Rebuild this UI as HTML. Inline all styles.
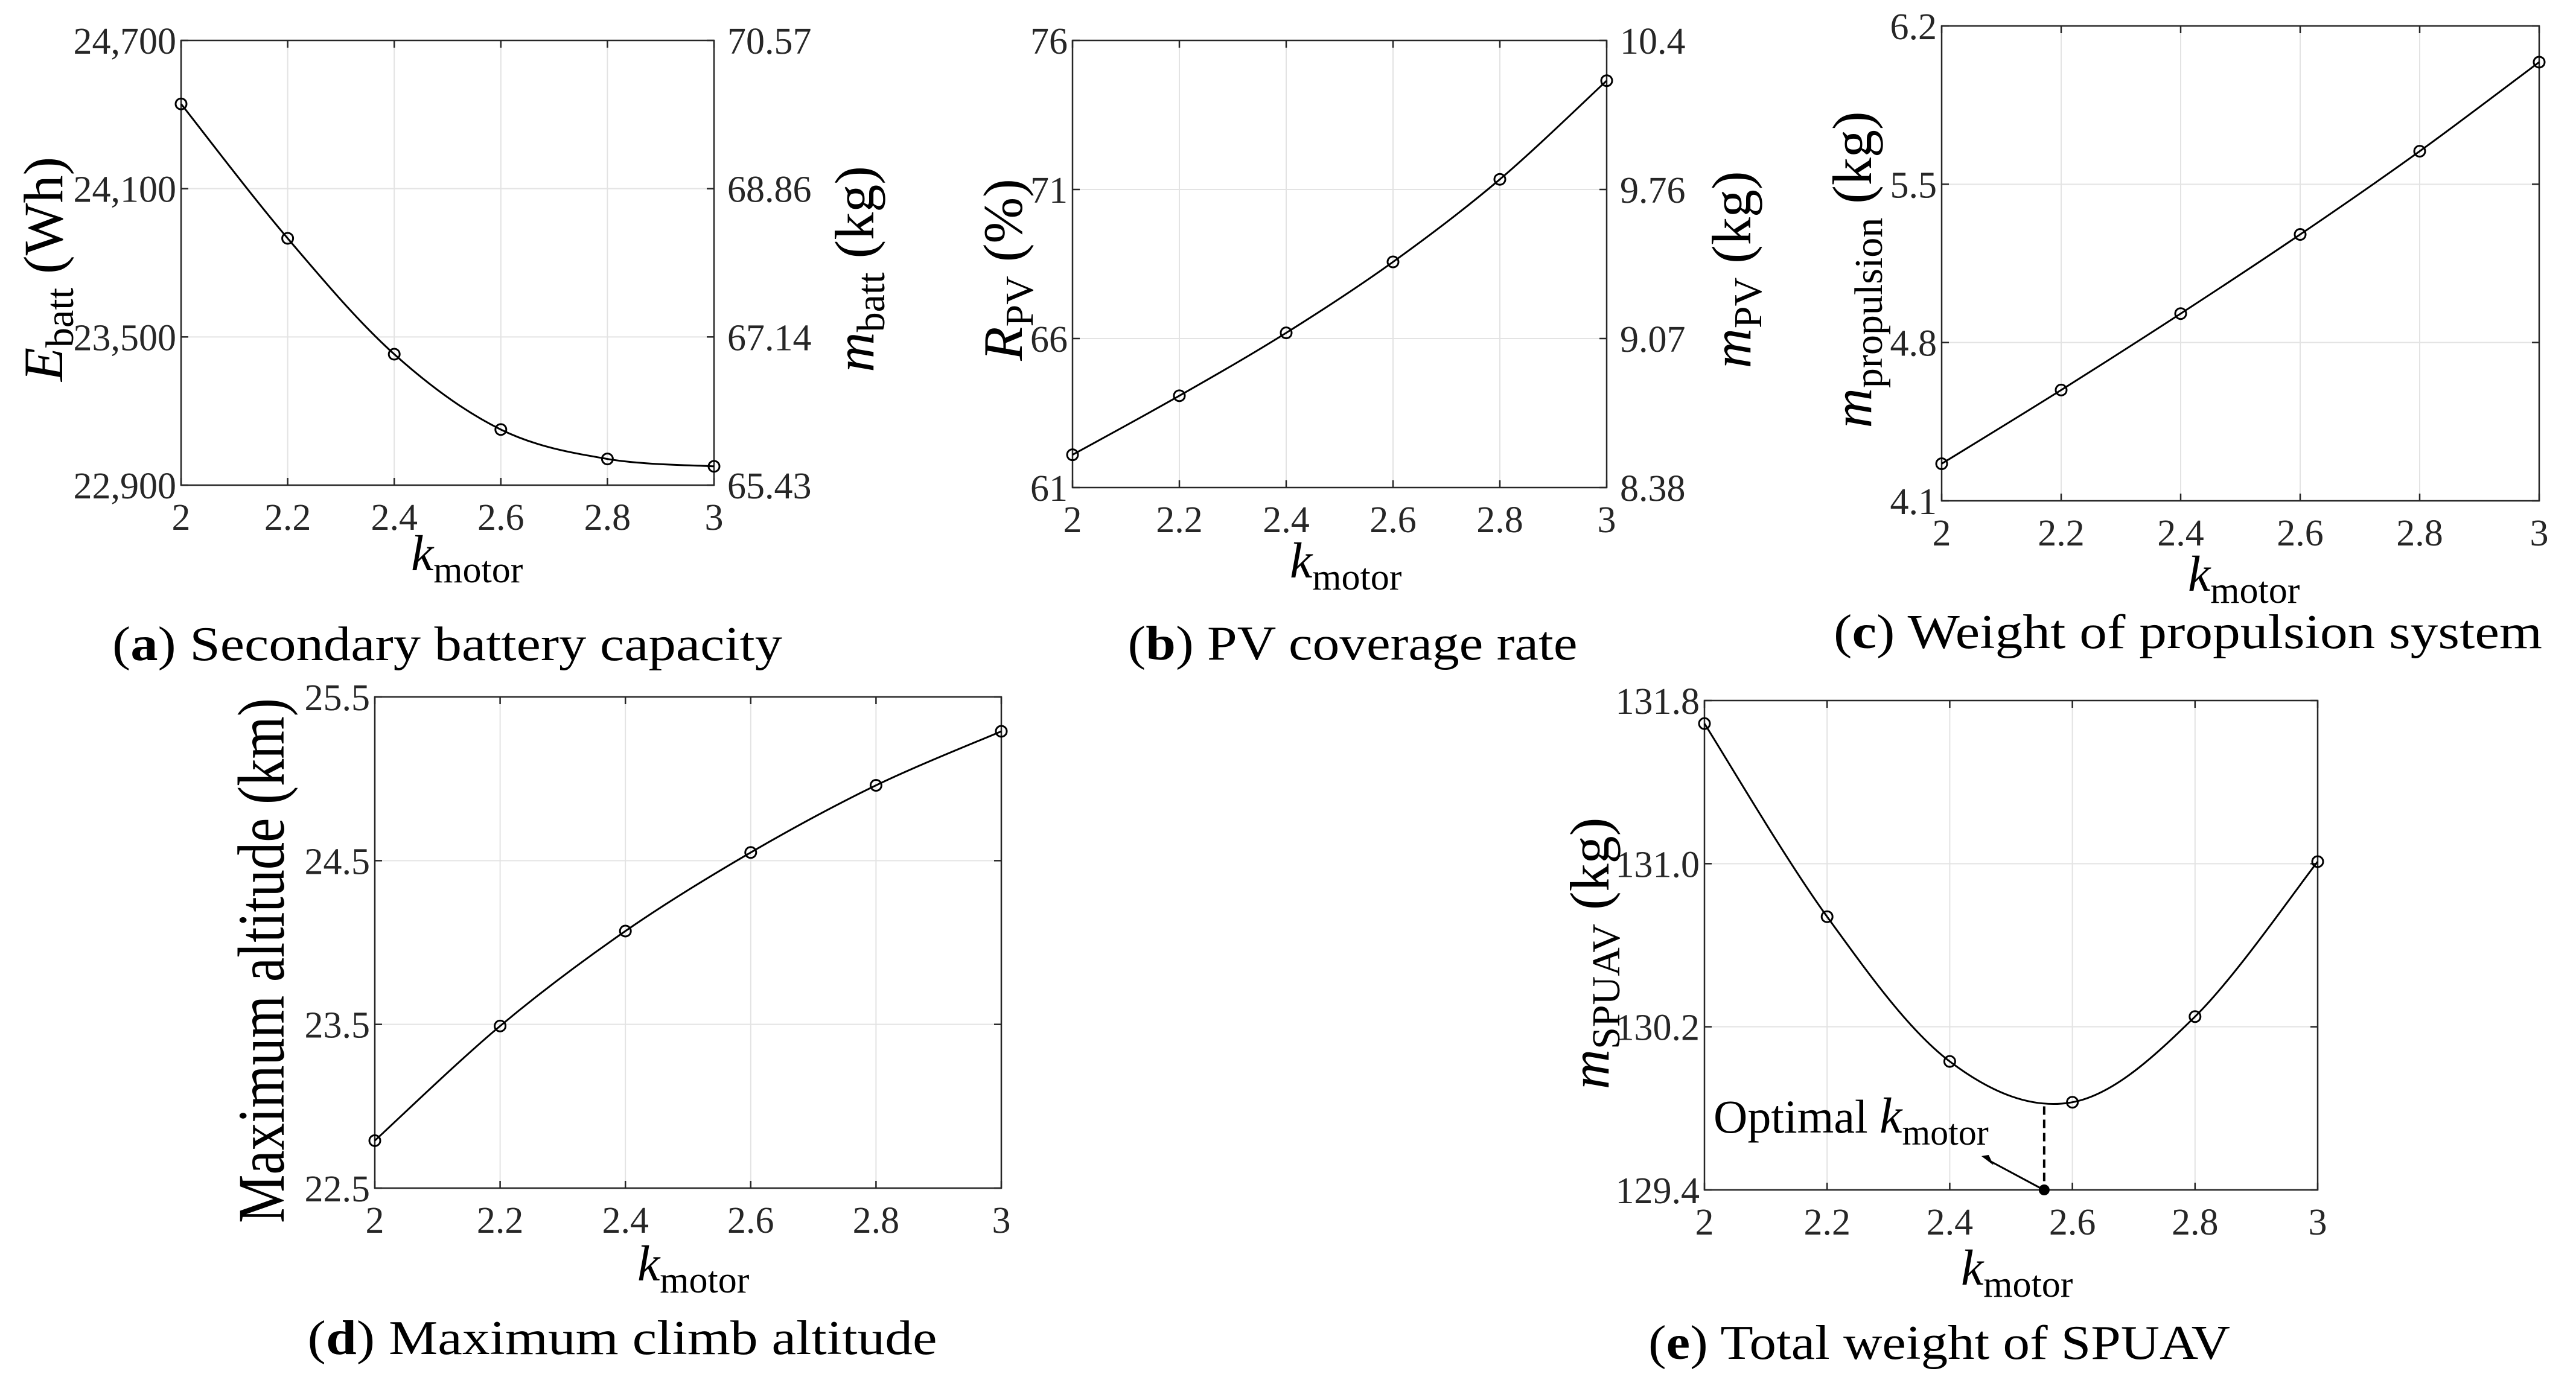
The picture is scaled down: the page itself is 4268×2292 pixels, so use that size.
<!DOCTYPE html>
<html><head><meta charset="utf-8"><style>
html,body{margin:0;padding:0;background:#fff;}
svg{display:block;}
text,tspan{font-family:"Liberation Serif","Times New Roman",serif;}
</style></head><body>
<svg id="fig" width="4268" height="2292" viewBox="0 0 4268 2292" xmlns="http://www.w3.org/2000/svg" font-family="Liberation Serif, serif"></svg>
<script>
// ---- data ----
const kMotor = [2, 2.2, 2.4, 2.6, 2.8, 3.0];
const xTicks = [2, 2.2, 2.4, 2.6, 2.8, 3];
const xTickLabels = ["2", "2.2", "2.4", "2.6", "2.8", "3"];
const battEnergy = [24443, 23899, 23430, 23125, 23006, 22976];
const battTicks = [22900, 23500, 24100, 24700];
const battTickLabels = ["22,900", "23,500", "24,100", "24,700"];
const battMassLabels = ["65.43", "67.14", "68.86", "70.57"];
const pvRate = [62.10, 64.08, 66.19, 68.57, 71.34, 74.65];
const pvTicks = [61, 66, 71, 76];
const pvTickLabels = ["61", "66", "71", "76"];
const pvMassLabels = ["8.38", "9.07", "9.76", "10.4"];
const propMass = [4.264, 4.59, 4.928, 5.278, 5.646, 6.04];
const propTicks = [4.1, 4.8, 5.5, 6.2];
const propTickLabels = ["4.1", "4.8", "5.5", "6.2"];
const altitude = [22.79, 23.49, 24.07, 24.55, 24.96, 25.29];
const altTicks = [22.5, 23.5, 24.5, 25.5];
const altTickLabels = ["22.5", "23.5", "24.5", "25.5"];
const totalMass = [131.687, 130.74, 130.03, 129.83, 130.25, 131.01];
const totalTicks = [129.4, 130.2, 131.0, 131.8];
const totalTickLabels = ["129.4", "130.2", "131.0", "131.8"];
const optimalK = [2.554];
const optimalMass = [129.81];

const NS = "http://www.w3.org/2000/svg";
const svg = document.getElementById("fig");
const FONT = "'Liberation Serif', 'Times New Roman', serif";
function mk(tag, attrs, parent) {
  const e = document.createElementNS(NS, tag);
  for (const k in attrs) e.setAttribute(k, attrs[k]);
  (parent || svg).appendChild(e);
  return e;
}
function addText(parent, x, y, parts, anchor, rot) {
  const t = mk("text", {x: 0, y: 0, "text-anchor": anchor || "start", fill: "#000"}, parent);
  t.setAttribute("style", "font-family:" + FONT);
  t.setAttribute("transform", "translate(" + x + "," + y + ")" + (rot ? " rotate(" + rot + ")" : ""));
  parts.forEach(p => {
    const s = mk("tspan", {"font-size": p.fs}, t);
    s.setAttribute("style", "font-family:" + FONT);
    if (p.it) s.setAttribute("font-style", "italic");
    if (p.b) s.setAttribute("font-weight", "bold");
    if (p.dy) s.setAttribute("dy", p.dy);
    s.textContent = p.t;
  });
  return t;
}
function smoothPath(pts) {
  let d = "M" + pts[0][0] + "," + pts[0][1];
  for (let i = 0; i < pts.length - 1; i++) {
    const p0 = pts[Math.max(0, i - 1)], p1 = pts[i], p2 = pts[i + 1], p3 = pts[Math.min(pts.length - 1, i + 2)];
    const c1 = [p1[0] + (p2[0] - p0[0]) / 6, p1[1] + (p2[1] - p0[1]) / 6];
    const c2 = [p2[0] - (p3[0] - p1[0]) / 6, p2[1] - (p3[1] - p1[1]) / 6];
    d += " C" + c1 + " " + c2 + " " + p2;
  }
  return d;
}

function panel(cfg) {
  const g = mk("g", {});
  
  
  const {L, R, T, B} = cfg;
  const xs = v => L + (v - 2) / (3 - 2) * (R - L);
  const ys = v => B - (v - cfg.ymin) / (cfg.ymax - cfg.ymin) * (B - T);
  xTicks.forEach(v => {
    const l = mk("line", {x1: xs(v), x2: xs(v), y1: T, y2: B, stroke: "#e3e3e3", "stroke-width": 2}, g);
    
    
  });
  cfg.ticks.forEach(v => {
    const l = mk("line", {x1: L, x2: R, y1: ys(v), y2: ys(v), stroke: "#e3e3e3", "stroke-width": 2}, g);
    
    
  });
  const box = mk("rect", {x: L, y: T, width: R - L, height: B - T, fill: "none", stroke: "#262626", "stroke-width": 2.5}, g);
  
  
  xTicks.forEach((v, i) => {
    mk("line", {x1: xs(v), x2: xs(v), y1: B, y2: B - 12, stroke: "#262626", "stroke-width": 2.5}, g);
    mk("line", {x1: xs(v), x2: xs(v), y1: T, y2: T + 12, stroke: "#262626", "stroke-width": 2.5}, g);
    const t = addText(g, xs(v), B + 74, [{t: xTickLabels[i], fs: 62}], "middle");
    t.setAttribute("fill", "#262626");
    
    
  });
  cfg.ticks.forEach((v, i) => {
    mk("line", {x1: L, x2: L + 12, y1: ys(v), y2: ys(v), stroke: "#262626", "stroke-width": 2.5}, g);
    mk("line", {x1: R, x2: R - 12, y1: ys(v), y2: ys(v), stroke: "#262626", "stroke-width": 2.5}, g);
    const t = addText(g, L - 8, ys(v) + 22, [{t: cfg.tickLabels[i], fs: 62}], "end");
    t.setAttribute("fill", "#262626");
    
    
    if (cfg.rightLabels) {
      const r = addText(g, R + 22, ys(v) + 22, [{t: cfg.rightLabels[i], fs: 62}], "start");
      r.setAttribute("fill", "#262626");
      
      
    }
  });
  const pts = kMotor.map((k, i) => [xs(k), ys(cfg.values[i])]);
  const path = mk("path", {d: smoothPath(pts), fill: "none", stroke: "#000", "stroke-width": 3}, g);
  
  
  pts.forEach(p => {
    const c = mk("circle", {cx: p[0], cy: p[1], r: 9, fill: "none", stroke: "#000", "stroke-width": 3}, g);
    
    
  });
  const xl = addText(g, cfg.kx, cfg.ky, [{t: "k", fs: 84, it: true}, {t: "motor", fs: 62, dy: 20}], "start");
  
  
  const yl = addText(g, cfg.ylx, cfg.yly, cfg.ylabel, "middle", -90);
  if (cfg.ylLen) { yl.setAttribute("textLength", cfg.ylLen); yl.setAttribute("lengthAdjust", "spacingAndGlyphs"); }
  
  
  if (cfg.ylabelR) {
    const yr = addText(g, cfg.yrx, cfg.yly, cfg.ylabelR, "middle", -90);
    
    
  }
  const cap = addText(g, cfg.capx, cfg.capy, [{t: "(", fs: 80}, {t: cfg.letter, fs: 80, b: true}, {t: ") " + cfg.caption, fs: 80}], "middle");
  cap.setAttribute("textLength", cfg.capLen);
  cap.setAttribute("lengthAdjust", "spacingAndGlyphs");
  
  
  return {g, xs, ys};
}

panel({name: "panel-a-battery", L: 300, R: 1183, T: 67, B: 804, ymin: 22900, ymax: 24700,
  ticks: battTicks, tickLabels: battTickLabels, rightLabels: battMassLabels, values: battEnergy,
  kx: 681, ky: 945, ylx: 103, yly: 446, yrx: 1447,
  ylabel: [{t: "E", fs: 92, it: true}, {t: "batt", fs: 66, dy: 18}, {t: " (Wh)", fs: 92, dy: -18}],
  ylabelR: [{t: "m", fs: 92, it: true}, {t: "batt", fs: 66, dy: 18}, {t: " (kg)", fs: 92, dy: -18}],
  capx: 741, capy: 1094, letter: "a", caption: "Secondary battery capacity", capLen: 1110});

panel({name: "panel-b-pv", L: 1777, R: 2662, T: 67, B: 808, ymin: 61, ymax: 76,
  ticks: pvTicks, tickLabels: pvTickLabels, rightLabels: pvMassLabels, values: pvRate,
  kx: 2137, ky: 957, ylx: 1693, yly: 447, yrx: 2900,
  ylabel: [{t: "R", fs: 92, it: true}, {t: "PV", fs: 66, dy: 18}, {t: " (%)", fs: 92, dy: -18}],
  ylabelR: [{t: "m", fs: 92, it: true}, {t: "PV", fs: 66, dy: 18}, {t: " (kg)", fs: 92, dy: -18}],
  capx: 2241, capy: 1093, letter: "b", caption: "PV coverage rate", capLen: 745});

panel({name: "panel-c-propulsion", L: 3217, R: 4207, T: 43, B: 830, ymin: 4.1, ymax: 6.2,
  ticks: propTicks, tickLabels: propTickLabels, values: propMass,
  kx: 3625, ky: 979, ylx: 3100, yly: 447,
  ylabel: [{t: "m", fs: 92, it: true}, {t: "propulsion", fs: 66, dy: 18}, {t: " (kg)", fs: 92, dy: -18}],
  capx: 3625, capy: 1074, letter: "c", caption: "Weight of propulsion system", capLen: 1174});

panel({name: "panel-d-altitude", L: 621, R: 1659, T: 1155, B: 1969, ymin: 22.5, ymax: 25.5,
  ticks: altTicks, tickLabels: altTickLabels, values: altitude,
  kx: 1056, ky: 2122, ylx: 470, yly: 1592, ylLen: 870,
  ylabel: [{t: "Maximum altitude (km)", fs: 110}],
  capx: 1031, capy: 2244, letter: "d", caption: "Maximum climb altitude", capLen: 1043});

const pe = panel({name: "panel-e-total-weight", L: 2824, R: 3840, T: 1161, B: 1972, ymin: 129.4, ymax: 131.8,
  ticks: totalTicks, tickLabels: totalTickLabels, values: totalMass,
  kx: 3249, ky: 2129, ylx: 2665, yly: 1580,
  ylabel: [{t: "m", fs: 92, it: true}, {t: "SPUAV", fs: 66, dy: 18}, {t: " (kg)", fs: 92, dy: -18}],
  capx: 3213, capy: 2252, letter: "e", caption: "Total weight of SPUAV", capLen: 964});

const ox = pe.xs(optimalK[0]), oy = pe.ys(optimalMass[0]), ob = pe.ys(129.4);
const dash = mk("line", {x1: ox, x2: ox, y1: oy, y2: ob, stroke: "#000", "stroke-width": 4, "stroke-dasharray": "14,8"}, pe.g);


const dot = mk("circle", {cx: ox, cy: ob, r: 9, fill: "#000"}, pe.g);


const arr = mk("line", {x1: ox - 8, y1: ob - 4, x2: ox - 92, y2: ob - 49, stroke: "#000", "stroke-width": 3}, pe.g);


const head = mk("polygon", {points: (ox - 104) + "," + (ob - 56) + " " + (ox - 84) + "," + (ob - 41) + " " + (ox - 92) + "," + (ob - 58), fill: "#000"}, pe.g);


const ann = addText(pe.g, 2839, 1877, [{t: "Optimal ", fs: 78}, {t: "k", fs: 84, it: true}, {t: "motor", fs: 60, dy: 20}], "start");


</script>
</body></html>
